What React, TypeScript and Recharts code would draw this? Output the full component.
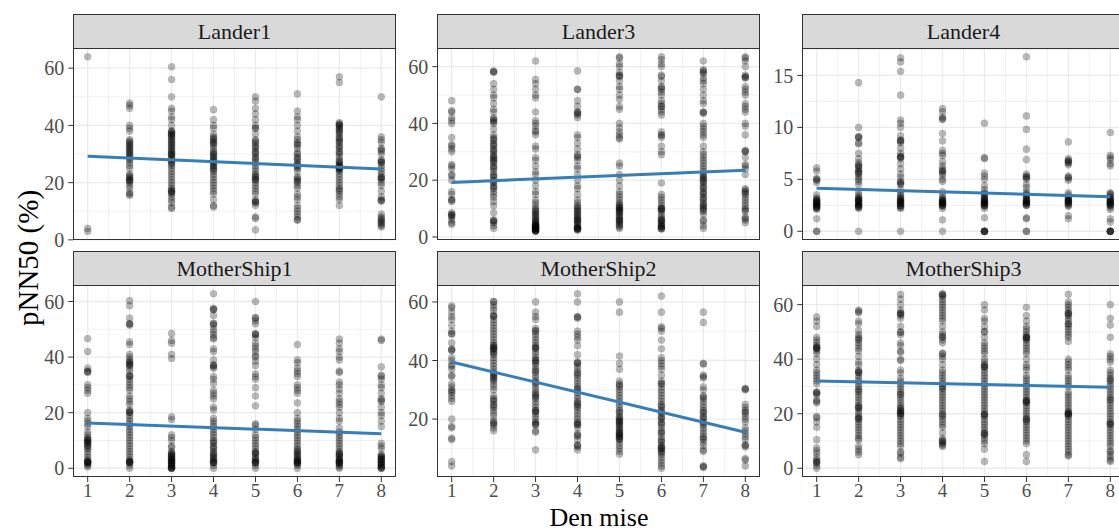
import React from "react";
import { ScatterChart, Scatter, XAxis, YAxis, CartesianGrid } from "recharts";

const FONT = "'Liberation Serif', 'DejaVu Serif', serif";

const panelNames = ["Lander1", "Lander3", "Lander4", "MotherShip1", "MotherShip2", "MotherShip3"];
const days = [1, 2, 3, 4, 5, 6, 7, 8];
const xMinor = [1.5, 2.5, 3.5, 4.5, 5.5, 6.5, 7.5];

// pNN50 values per day (1..8) for each lander / ship
const lander1 = [
  [64, 4, 3],
  [47.8, 47, 46, 40, 39, 38, 35, 34, 33, 32, 31, 30, 29, 28, 27, 26, 25, 23, 22, 21, 20.5, 20, 19, 18, 16.5, 16, 15.5, 34.5, 33.5, 32.5, 31.5, 30.5, 29.5, 28.5, 22.5, 21.5, 20.8],
  [60.5, 56, 50, 46, 45, 43, 42, 40, 38, 38, 37, 37, 36, 35, 34, 33, 32, 31, 30, 30, 29, 28, 27, 26, 25, 24, 23, 22, 21, 20, 19, 18, 17, 16.5, 16, 15, 14, 13, 11.5, 11, 37.5, 36.5, 35.5, 34.5, 33.5, 32.5, 31.5, 30.5, 29.5, 28.5, 27.5, 26.5, 17.5, 16.8],
  [45.5, 42, 40, 39, 37, 36, 35, 34, 33, 32, 31, 30, 29, 28, 27, 26, 25, 24, 23, 22, 21, 20, 19, 18, 17, 16, 14, 12, 11.5, 35.5, 34.5, 33.5, 30.5, 29.5, 28.5, 27.5, 26.5, 25.5, 24.5],
  [50, 48.5, 46, 44, 42, 40, 39, 39, 37, 35, 34, 33, 32, 31, 30, 29, 28, 27, 26, 25, 24, 23, 22, 21, 21, 20, 19, 18, 17, 16, 14, 13.5, 13, 12, 8, 7.5, 3.5, 34.5, 32.5, 30.5, 28.5, 22.5, 21.5, 13.2],
  [51, 45, 43, 42, 40, 38, 36, 35, 34, 33, 32, 30, 29, 28, 27, 26, 25, 24, 22, 21, 20, 19, 18, 16, 15, 14, 12, 11, 10, 9, 8, 7, 7, 33.5, 30.5, 28.5, 26.5, 25.5, 21.5, 20.5],
  [57, 55, 41, 40.5, 40, 39, 38, 37, 36, 35, 34, 33, 32, 31, 30, 29, 28, 27, 26, 25.5, 25, 24.5, 24, 23, 22, 21, 20, 19, 18, 17.5, 17, 16, 15, 14, 12, 40.2, 39.5, 38.5, 37.5, 35.5, 34.5, 32.5, 30.5, 27.5, 26.5, 25.8, 25.2, 24.8],
  [50, 36, 35, 34, 32, 31, 30, 28, 27.5, 27, 26, 25, 24, 23, 22, 21.5, 21, 20, 19, 17, 15, 14, 13.5, 9, 8, 7.5, 7, 6.5, 6, 5.5, 5, 4.5, 31.5, 27.2, 21.8, 13.8],
];

const lander3 = [
  [48, 44, 42, 41, 40, 35, 32, 31, 30, 25.5, 25, 24, 22, 21.5, 20, 16, 15, 13, 12.5, 8.5, 8, 7.5, 7, 6, 5, 4.5, 44.5, 32.5, 13.2, 7.8],
  [58.5, 58, 54, 52, 50, 49, 47, 45, 44, 42, 41, 40, 38, 36, 35, 34, 33, 32, 31, 30, 29, 28, 27, 26, 25, 24, 23, 22, 21, 20, 19, 18, 17, 16, 15, 14, 12.5, 11, 8.5, 6, 5.5, 5, 4, 3, 58.2, 41.5, 40.5, 34.5, 32.5, 30.5, 28.5, 27.5, 26.5, 24.5, 21.5, 19.5, 17.5, 5.8],
  [62, 55.5, 54, 52, 50, 49, 44, 41, 40, 39, 37.5, 37, 36, 32, 31, 28, 27, 25, 23, 22, 20, 18, 16, 15, 13, 12, 11, 10, 9, 8, 7, 6, 5.5, 5, 4.5, 4, 3.5, 3, 2.5, 2.5, 2, 2, 3, 4, 2.2, 2.8, 3.2, 3.8, 4.2, 5.2, 6.5, 7.5, 8.5, 9.5, 2.4, 3.4],
  [58.5, 52, 52, 48, 46, 44, 43.5, 43, 42, 36, 35, 33, 31, 29, 28, 27, 25, 24, 22, 20, 18, 17, 15, 13, 12, 11, 10, 9.5, 9, 8, 7, 6, 5.5, 5, 4, 3.5, 3, 2.5, 2.5, 3, 6, 2.8, 3.2, 4.5, 6.5, 7.5, 8.5, 10.5, 44, 28.5],
  [63.5, 63, 61, 60, 58, 57, 56.5, 55, 53, 52, 50, 48.5, 46, 45, 40, 38.5, 37, 36, 35, 34.5, 26, 25, 22, 20, 18, 16, 15, 14, 13, 12, 11, 10.5, 10, 9.5, 9, 8, 7, 6, 5.5, 5, 4, 3, 11.5, 10.2, 9.2, 8.5, 7.5, 6.5, 5.8, 4.5, 3.5, 56.8],
  [63.5, 62.5, 61, 60, 57, 56.5, 55, 53, 52, 51, 50, 48, 47, 46, 45, 44, 43, 37, 36, 35, 32, 30, 29, 19, 15, 14, 13, 12, 11, 10, 9.5, 9, 8, 7, 6, 5.5, 5, 4, 3.5, 3, 3, 10.2, 9.8, 6.5, 5.8, 4.5, 3.8, 2.8, 52.5, 46, 35.8],
  [62, 59, 58, 57.5, 56, 55, 54, 52, 50, 48, 47, 44, 43.5, 40, 39, 38, 37, 36, 35, 32, 30, 29, 28, 27, 26, 25, 24, 23, 22, 21, 20.5, 20, 19, 18, 17, 16, 15, 14, 13, 12, 11, 10, 9, 8, 6, 5.5, 4, 3, 21.5, 19.5, 17.5, 15.5, 13.5, 11.5, 10.5, 9.5, 44, 58.5],
  [63.5, 63, 62, 60, 57, 56.5, 56, 53, 52, 51, 50, 47, 46, 45, 44, 40, 39, 36, 30.5, 30, 28, 25.5, 25, 24, 22, 17, 16.5, 16, 15, 14, 13, 12, 11, 10, 9.5, 9, 7, 6.5, 6, 5, 56.2, 30.2, 15.5],
];

const lander4 = [
  [6.1, 5.8, 5.1, 4.9, 4.7, 3.5, 3.2, 3.0, 2.9, 2.8, 2.7, 2.6, 2.5, 2.4, 2.3, 2.2, 2.1, 1.2, 0, 3.1, 2.9, 2.7, 2.5, 2.3, 5.0, 0],
  [14.3, 10, 9.1, 9.0, 8.5, 8.4, 7.5, 7.0, 6.6, 6.4, 6.2, 6.0, 5.8, 5.6, 5.5, 5.2, 5.0, 4.8, 4.5, 3.8, 3.5, 3.3, 3.1, 3.0, 2.9, 2.8, 2.6, 2.5, 2.4, 2.3, 2.2, 0, 3.2, 3.0, 2.8, 2.6, 2.4, 6.3, 5.7, 9.1],
  [16.7, 16.3, 15.4, 13.1, 10.7, 10.4, 10, 9.2, 8.8, 8.7, 8.5, 8.0, 7.5, 7.2, 7.1, 7.0, 6.5, 6.0, 5.5, 5.2, 4.8, 4.7, 4.5, 4.0, 3.7, 3.5, 3.3, 3.2, 3.0, 2.9, 2.8, 2.7, 2.5, 2.4, 2.3, 2.2, 0, 3.1, 2.9, 2.7, 2.5, 7.2, 8.7, 4.6],
  [11.8, 11.5, 11.0, 10.8, 9.4, 8.7, 7.8, 7.5, 7.3, 6.7, 6.3, 6.0, 5.8, 5.6, 5.4, 5.0, 4.8, 3.8, 3.5, 3.2, 3.0, 2.9, 2.8, 2.7, 2.6, 2.5, 2.4, 2.2, 1.1, 0, 3.1, 2.9, 2.7, 2.5, 5.8, 10.8],
  [10.4, 7.1, 7.0, 5.6, 5.3, 5.0, 4.4, 4.0, 3.7, 3.5, 3.3, 3.1, 3.0, 2.9, 2.8, 2.7, 2.6, 2.5, 2.4, 2.2, 1.3, 0, 0, 0, 3.6, 3.2, 2.9, 2.7, 2.5, 0, 0],
  [16.8, 11.1, 9.8, 7.9, 6.9, 5.5, 5.3, 5.2, 5.0, 4.5, 4.2, 3.8, 3.6, 3.4, 3.2, 3.0, 2.9, 2.8, 2.7, 2.6, 2.5, 1.3, 1.2, 0, 0, 3.5, 3.1, 2.9, 2.7, 2.5, 5.2],
  [8.6, 7.0, 6.8, 6.6, 6.4, 5.3, 5.1, 4.9, 3.7, 3.5, 3.3, 3.1, 3.0, 2.9, 2.8, 2.7, 2.5, 2.4, 1.5, 1.2, 3.2, 3.0, 2.8, 2.6, 6.8, 6.6, 5.2],
  [9.5, 7.3, 7.1, 6.9, 6.5, 6.3, 3.7, 3.5, 3.3, 3.2, 3.0, 2.9, 2.8, 2.7, 2.6, 2.5, 2.3, 2.1, 1.2, 0.9, 0, 0, 0, 3.6, 3.1, 2.9, 2.7, 2.5, 0, 0],
];

const motherShip1 = [
  [46.7, 42, 36, 35, 34.5, 30, 29, 28, 27, 20, 18, 17, 16, 15, 13, 12, 11, 10.5, 10, 9.5, 9, 8, 7, 6, 5, 4, 3, 2.5, 2, 2, 1.5, 1, 0.5, 10.2, 9.2, 8.5, 7.5, 2.2, 2.5, 34.8],
  [60.3, 58.5, 54, 52, 51.5, 45.5, 44.5, 41, 40, 39, 38, 37.5, 37, 36, 35, 33.5, 33, 32, 31, 30, 29, 28, 26, 25, 24, 23, 21, 20.5, 20, 19, 18, 17, 16, 15, 14, 13, 12, 11, 10, 9, 8, 7, 6, 5, 4, 3, 2.5, 2, 2, 1, 0, 38.5, 37.2, 33.2, 20.2, 2.2, 2.4, 52],
  [48.5, 46, 45, 41, 39.5, 18.5, 17.5, 12, 11, 10, 8, 7.5, 6, 5.5, 5, 4.5, 4, 3.5, 3, 2.5, 2, 1.5, 1, 0.5, 0, 0, 0, 2.2, 2.8, 3.2, 4.2, 5.2, 0.2, 0.8, 1.8],
  [62.8, 57.5, 57, 55, 52, 51.5, 50, 49, 48, 47, 46.5, 43, 42, 39, 37, 36.5, 36, 33, 32, 30.5, 28, 27, 26, 25, 22, 21, 18, 17, 16, 15, 14, 13, 12, 11, 10, 9, 8, 7, 6, 5, 4.5, 4, 3, 2.5, 2, 2, 1, 0, 2.2, 3.5, 5.5, 7.5, 9.5, 57.2, 52.2, 37.2],
  [60, 54, 53, 52, 48.5, 48, 47, 45, 44, 43, 42, 40.5, 40, 38.5, 37, 34, 33, 32, 29, 26, 22.5, 16, 15.5, 14, 12, 11, 10, 9, 8, 7, 6, 5.5, 5, 4, 3, 2.5, 2, 2, 1, 0, 2.2, 3.5, 5.5, 48.2, 54.2],
  [44.5, 39, 38, 36, 35, 34, 33, 30, 29, 28, 27, 23.5, 20, 18, 17, 16, 15, 14, 13, 12, 11, 10, 9, 8, 7, 6, 5.5, 5, 4, 3.5, 3, 2.5, 2, 2, 1.5, 1, 0, 2.2, 2.8, 4.5, 6.5],
  [46.5, 45, 43, 42, 40, 39, 35, 34.5, 31, 30, 28.5, 27, 25, 24, 23, 22, 20, 18, 17, 14.5, 13, 12, 11, 10, 9, 8, 7, 6, 5.5, 5, 4.5, 4, 3, 2.5, 2, 2, 1.5, 1, 0.5, 0, 2.2, 2.8, 3.5, 5.2],
  [46.5, 46, 36.5, 33.5, 33, 32, 30, 29, 27, 25, 24.5, 24, 22, 20, 19, 17, 15, 9, 8, 7, 5, 4.5, 4, 3.5, 3, 2.5, 2, 1.5, 1, 0.5, 0, 0, 0.2, 1.2, 2.2, 3.2, 4.2],
];

const motherShip2 = [
  [58.7, 58, 56.5, 55, 54, 52, 50, 49, 46, 44, 43.5, 41, 40, 38.5, 38, 37, 35, 34.5, 32, 31, 30, 29.5, 29, 28, 27, 26, 20, 17.5, 17, 13.5, 13, 5.5, 4, 43.5, 49.2],
  [60, 59, 58, 57, 55.5, 55, 54, 53, 52, 51, 50, 49, 48, 47, 46, 45, 44.5, 44, 43, 42, 41, 40, 39, 38, 37, 36, 35, 34, 33, 32, 31, 30, 28, 27, 26, 25, 24, 23, 22, 21, 19.5, 18.5, 18, 17, 16, 60.2, 55.2, 45.2, 44.2, 43.5, 42.5, 35.5, 34.5, 33.5, 26.5, 24.5, 18.8],
  [60, 56.5, 55, 54, 51, 50, 49, 48, 47, 46, 45, 44.5, 44, 43, 42, 41, 40, 39.5, 39, 38, 37, 36, 35, 34, 33, 32, 31, 30, 29, 28, 27.5, 27, 26, 25, 24, 23, 22.5, 22, 21, 20, 19, 18.5, 18, 16, 15.5, 9.5, 50.2, 44.2, 40.2, 36.5, 32.5, 28.5, 22.8, 18.2],
  [62.8, 60, 55, 54.5, 50, 49, 48, 47, 45, 42, 39.5, 39, 38, 37, 36, 35, 34, 33, 32, 31, 30, 29, 28, 27, 26, 25, 24, 23, 22, 21, 20, 19, 18.5, 18, 17, 15, 14.5, 13, 11, 10.5, 9.5, 54.8, 39.2, 35.5, 30.5, 25.5, 24.5, 18.2, 14.2, 11.2],
  [60, 56.5, 41.5, 39, 37, 33, 32, 31.5, 31, 30, 29, 28, 27, 26, 25, 24, 23, 22, 21, 20.5, 20, 19.5, 19, 18.5, 18, 17, 16.5, 16, 15.5, 15, 14.5, 14, 13.5, 13, 12, 11, 10, 9, 8, 22.5, 19.2, 17.5, 15.2, 14.2, 13.2],
  [62, 56.5, 51.5, 51, 50, 47, 44, 41, 40, 39, 38, 37, 35, 33, 32, 31, 30, 29, 28, 27, 26, 25, 24, 23, 22, 21, 20, 19, 18, 17, 16, 15, 14, 13, 12, 11, 10.5, 10, 9.5, 9, 8.5, 8, 7, 6, 5, 4, 3.2, 32.2, 24.5, 22.5, 20.5, 18.5, 15.5, 12.5, 10.2],
  [56.5, 53, 39, 35, 34.5, 34, 31, 30, 28, 27.5, 27, 26, 25, 24, 23, 22, 21, 20, 19, 18, 17, 16, 15, 14, 13.5, 13, 12, 11, 9.5, 9, 4, 3.5, 38.8, 22.5, 20.5, 18.5, 3.8],
  [30.5, 30, 25, 24, 23, 22, 21, 20, 19, 17, 16, 15, 14, 13, 11, 10.5, 6.5, 6, 4, 30.2, 11.2, 22.5],
];

const motherShip3 = [
  [55.5, 54, 52, 48, 47, 46, 45, 44.5, 44, 43, 42, 40, 38, 36, 35, 34, 33, 32, 31, 28, 27.5, 27, 25, 24, 19, 18.5, 17, 15, 10.5, 7.5, 6.5, 5.5, 4, 3, 2.5, 2, 1, 0, 44.2, 43.8, 27.8, 24.5, 2.2],
  [58, 57, 54, 53, 50.5, 49, 48, 47, 46, 45, 44, 43, 41, 39, 38, 36, 35.5, 35, 34, 33, 32, 31, 30, 29, 28, 27, 26, 25, 24, 23, 22.5, 22, 21, 20, 19, 18.5, 18, 17, 16, 15, 14, 13, 12, 11, 10.5, 8, 7, 6, 5, 57.5, 47.5, 35.2, 28.5, 22.2, 18.2],
  [63.8, 62, 60, 58, 57, 56.5, 56, 55, 52, 50, 49, 46, 45, 43, 42.5, 40, 39.5, 36, 35, 33, 32, 31, 30, 29, 28, 27, 26, 25, 24, 23, 22, 21, 20.5, 20, 19, 18, 17, 16, 15, 14, 13, 12, 11, 10, 9, 8, 6, 5.5, 4, 3.5, 56.8, 49.8, 27.2, 22.2, 21.2, 20.2, 19.5],
  [64, 63.5, 63, 62, 61, 60, 59, 58, 57, 56, 55, 54, 52, 50, 49, 48, 47, 46, 42, 41, 40, 38, 36, 35, 34, 33, 32, 31, 30, 29, 28, 27, 26, 25, 24, 23, 22, 21, 20, 19, 18, 17, 16, 15, 13, 11, 10, 9.5, 9, 8.5, 8, 63.8, 48.2, 42.2, 29.5, 19.5, 10.2],
  [60, 58, 55, 54, 52, 50, 48, 46, 45, 44, 43, 42, 40, 39, 38, 37.5, 37, 36, 35, 34, 33, 32, 31, 30, 29, 28, 27, 26, 25, 24, 23, 22, 21, 20, 19.5, 19, 18, 17, 16, 15, 14, 13, 12.5, 12, 11, 10, 9, 7, 2.5, 50.2, 37.2, 19.8, 12.8],
  [59, 56, 54, 52, 51, 50, 49, 48, 47.5, 47, 46, 45, 44, 43, 42, 40, 38, 37, 36, 34, 33, 32, 31, 30, 29, 28, 27, 26, 25, 24.5, 24, 23, 22, 21, 20, 19, 18, 17.5, 17, 16, 15, 14, 13, 12, 11, 10, 9, 5, 2.5, 48.2, 47.8, 24.8, 24.2, 18.2],
  [63.8, 61, 60, 59, 58, 57, 56.5, 56, 55, 54, 53, 52, 51, 50, 49, 48, 46.5, 40, 39, 38, 37, 36, 34, 33, 32, 31, 30, 28, 27, 26, 25, 24, 23, 22, 21, 20.5, 20, 19.5, 19, 18, 17, 16, 15, 14, 13, 12, 11, 10, 9, 8, 7, 6, 5, 4.5, 56.8, 52.8, 20.2, 19.8],
  [60, 55, 52.5, 48, 42, 41, 40, 39, 36, 35, 34, 33, 32, 31, 30, 29, 28, 27, 26, 25, 24, 23, 22, 21, 20, 19, 18, 17, 16.5, 16, 15, 14, 13, 12, 11, 10, 9, 8, 6.5, 6, 5, 4, 3, 2.5, 16.2, 25.2, 32.5],
];

const panelValues = [lander1, lander3, lander4, motherShip1, motherShip2, motherShip3];

// linear fit read at day 1 and day 8
const fitDay1 = [29.2, 19.2, 4.13, 16.3, 39.5, 32.0];
const fitDay8 = [24.8, 23.5, 3.33, 12.4, 15.5, 29.7];

const yTicks = [
  [0, 20, 40, 60],
  [0, 20, 40, 60],
  [0, 5, 10, 15],
  [0, 20, 40, 60],
  [20, 40, 60],
  [0, 20, 40, 60],
];
const yMinor = [
  [10, 30, 50],
  [10, 30, 50],
  [2.5, 7.5, 12.5, 17.5],
  [10, 30, 50],
  [10, 30, 50],
  [10, 30, 50],
];

const colLeft = [73, 437, 802];
const rowTop = [48, 285];
const plotW = 323;
const plotH = 192;
const stripH = 34;
const yAxisW = 60;
const xAxisH = 30;
const padBottom = 14;

const dot = (p: any) => (
  <circle
    cx={p.cx}
    cy={p.cy}
    r={3.6}
    fill="#000"
    fillOpacity={0.27}
    stroke="#000"
    strokeOpacity={0.12}
    strokeWidth={0.6}
  />
);
const noDot = () => <g />;

function Panel({ idx }: { idx: number }) {
  const col = idx % 3;
  const row = Math.floor(idx / 3);
  const bottom = row === 1;
  const values = panelValues[idx];
  const points = values.flatMap((vals, d) => vals.map((v) => ({ x: days[d], y: v })));
  const all = values.flat();
  const lo = Math.min(...all);
  const hi = Math.max(...all);
  const pad = (hi - lo) * 0.05;
  const fit = [
    { x: 1, y: fitDay1[idx] },
    { x: 8, y: fitDay8[idx] },
  ];
  const tickStyle = { fill: "#4D4D4D", fontSize: 19, fontFamily: FONT };

  return (
    <>
      <div
        style={{
          position: "absolute",
          left: colLeft[col],
          top: rowTop[row] - stripH,
          width: plotW,
          height: stripH + 1,
          boxSizing: "border-box",
          background: "#D9D9D9",
          border: "1px solid #333333",
          display: "flex",
          alignItems: "center",
          justifyContent: "center",
          fontFamily: FONT,
          fontSize: 22,
          color: "#1A1A1A",
        }}
      >
        {panelNames[idx]}
      </div>
      <div style={{ position: "absolute", left: colLeft[col] - yAxisW, top: rowTop[row] }}>
        <ScatterChart
          width={yAxisW + plotW}
          height={plotH + (bottom ? xAxisH : padBottom)}
          margin={{ top: 0, right: 0, bottom: bottom ? 0 : padBottom, left: 0 }}
        >
          <CartesianGrid
            verticalValues={xMinor}
            horizontalValues={yMinor[idx]}
            stroke="#EBEBEB"
            strokeWidth={0.7}
          />
          <CartesianGrid
            verticalValues={days}
            horizontalValues={yTicks[idx]}
            stroke="#EBEBEB"
            strokeWidth={1.3}
          />
          <XAxis
            type="number"
            dataKey="x"
            domain={[0.65, 8.35]}
            ticks={days}
            interval={0}
            hide={!bottom}
            height={xAxisH}
            axisLine={false}
            tickLine={{ stroke: "#333333" }}
            tickSize={5}
            tickMargin={2}
            tick={tickStyle}
            allowDataOverflow
          />
          <YAxis
            type="number"
            dataKey="y"
            domain={[lo - pad, hi + pad]}
            ticks={yTicks[idx]}
            interval={0}
            width={yAxisW}
            axisLine={false}
            tickLine={{ stroke: "#333333" }}
            tickSize={4.7}
            tickMargin={4}
            tick={{ ...tickStyle, fontSize: 20 }}
            allowDataOverflow
          />
          <Scatter data={points} shape={dot} isAnimationActive={false} />
          <Scatter
            data={fit}
            line={{ stroke: "#377EB8", strokeWidth: 3 }}
            shape={noDot}
            isAnimationActive={false}
          />
        </ScatterChart>
        <div
          style={{
            position: "absolute",
            left: yAxisW,
            top: 0,
            width: plotW,
            height: plotH,
            boxSizing: "border-box",
            border: "1px solid #333333",
            pointerEvents: "none",
          }}
        />
      </div>
    </>
  );
}

export default function App() {
  return (
    <div
      style={{
        position: "relative",
        width: 1119,
        height: 531,
        overflow: "hidden",
        background: "#fff",
        fontFamily: FONT,
      }}
    >
      <style>{`body { margin: 0; } .recharts-text, .recharts-cartesian-axis-tick-value { font-family: 'Liberation Serif', 'DejaVu Serif', serif; }`}</style>
      {panelNames.map((_, i) => (
        <Panel key={i} idx={i} />
      ))}
      <svg
        width={1119}
        height={531}
        style={{ position: "absolute", left: 0, top: 0, pointerEvents: "none" }}
      >
        <text
          x={599}
          y={525.5}
          textAnchor="middle"
          fontFamily={FONT}
          fontSize={26}
          fill="#000"
        >
          Den mise
        </text>
        <text
          transform="translate(38 258) rotate(-90)"
          textAnchor="middle"
          fontFamily={FONT}
          fontSize={29}
          fill="#000"
        >
          pNN50 (%)
        </text>
      </svg>
    </div>
  );
}
